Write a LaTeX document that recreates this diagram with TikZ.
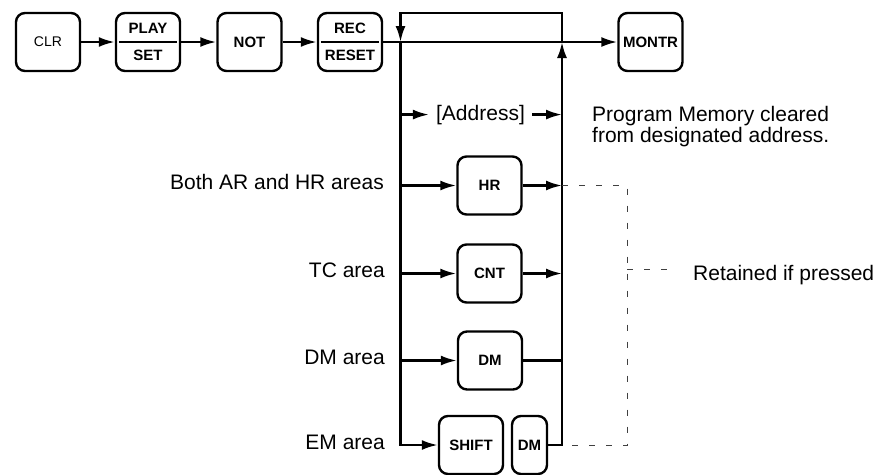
\documentclass[tikz,border=0pt]{standalone}
\usepackage{fontspec}
\setmainfont{Liberation Sans}
\usetikzlibrary{arrows.meta}

\begin{document}
\begin{tikzpicture}[x=1pt,y=-1pt,>={Latex[length=16pt,width=10pt]},line width=2.4pt,key/.style={draw,rounded corners=9pt,minimum width=64pt,minimum height=58pt,inner sep=2pt,align=center,font=\fontsize{15}{15}\selectfont\bfseries},lbl/.style={inner sep=0pt,font=\fontsize{21}{21}\selectfont},dashline/.style={line width=0.9pt,black!75,dash pattern=on 6pt off 11pt}]
\useasboundingbox (0,0) rectangle (883,474);
\node[key,font=\fontsize{14}{14}\selectfont] (clr) at (48,42) {CLR};
\node[key] (play) at (148,42) {PLAY\\[12pt]SET};
\node[key] (not) at (249.5,42) {NOT};
\node[key] (rec) at (350,42) {REC\\[12pt]RESET};
\node[key] (montr) at (650.5,42) {MONTR};
\draw[line width=2pt] ([xshift=4pt]play.west) -- ([xshift=-4pt]play.east);
\draw[line width=2pt] ([xshift=4pt]rec.west) -- ([xshift=-4pt]rec.east);
\draw[->] (clr) -- (play);
\draw[->] (play) -- (not);
\draw[->] (not) -- (rec);
\draw[->] (rec) -- (montr);
\coordinate (lt) at (400.5,13);
\coordinate (lj) at (400.5,42);
\coordinate (rj) at (562,42);
\draw[->] (rj) |- (lt) -- (lj);
\node[lbl,inner xsep=6pt,anchor=base] (addr) at (480.5,120) {[Address]};
\node[lbl,anchor=base west] (prog) at (591,121) {Program Memory cleared};
\node[lbl,anchor=base west] (progb) at (591,142) {from designated address.};
\node[key] (hr) at (489.5,185.5) {HR};
\node[key] (cnt) at (489.5,273.5) {CNT};
\node[key] (dm) at (490,360.5) {DM};
\node[key] (shift) at (471,445) {SHIFT};
\node[key,minimum width=35pt,inner sep=1pt] (dms) at (529.5,445) {DM};
\node[lbl,anchor=base east] (arhr) at (385,189) {Both AR and HR areas};
\node[lbl,anchor=base east] (tc) at (386,277) {TC area};
\node[lbl,anchor=base east] (dma) at (386,364) {DM area};
\node[lbl,anchor=base east] (ema) at (386,449) {EM area};
\node[lbl,anchor=base west] (ret) at (692,280) {Retained if pressed};
\draw[->] (lj |- addr.west) -- (addr.west);
\draw[->] (addr.east) -- (rj |- addr.east);
\draw[->] (lj |- hr) -- (hr);
\draw[->] (hr) -- (rj |- hr);
\draw[->] (lj |- cnt) -- (cnt);
\draw[->] (cnt) -- (rj |- cnt);
\draw[->] (lj |- dm) -- (dm);
\draw (dm) -- (rj |- dm);
\draw[->] (lj) |- (shift);
\draw[->] (dms) -| (rj);
\coordinate (dtop) at (627,185.5);
\coordinate (dmid) at (627,269);
\coordinate (dbot) at (627,445);
\coordinate (dend) at (676,269);
\draw[dashline] (rj |- hr) -- (dtop) -- (dbot) -- (rj |- shift);
\draw[dashline] (dmid) -- (dend);
\end{tikzpicture}
\end{document}
